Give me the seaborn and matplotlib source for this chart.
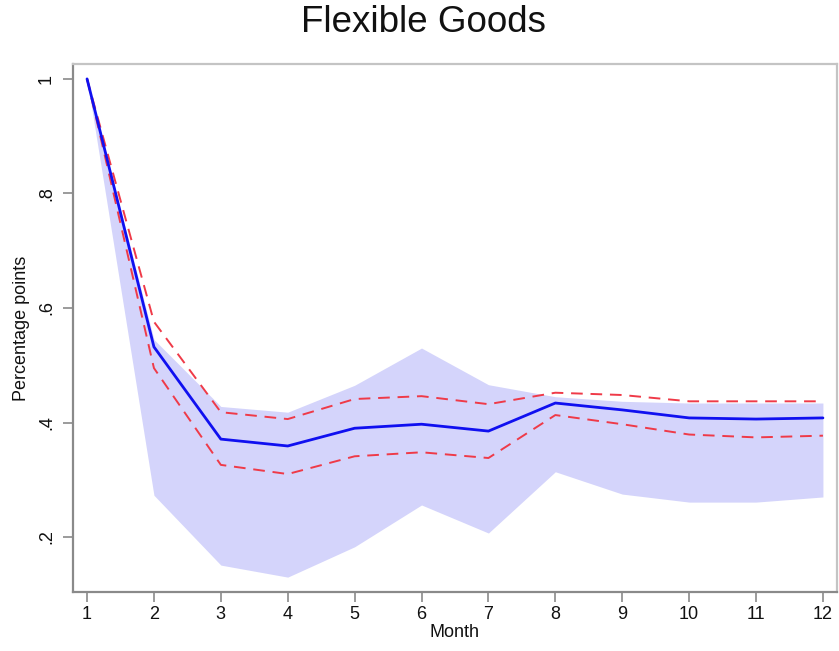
import matplotlib
matplotlib.use("Agg")
import matplotlib.pyplot as plt
import seaborn as sns
import pandas as pd

# Impulse response for flexible-goods prices, months 1-12
months = [1, 2, 3, 4, 5, 6, 7, 8, 9, 10, 11, 12]
estimate = [1.0, 0.532, 0.371, 0.359, 0.390, 0.397, 0.385, 0.434, 0.422, 0.408, 0.406, 0.408]
upper_ci = [1.0, 0.576, 0.418, 0.406, 0.441, 0.446, 0.432, 0.452, 0.448, 0.437, 0.437, 0.437]
lower_ci = [1.0, 0.495, 0.326, 0.310, 0.341, 0.348, 0.338, 0.413, 0.397, 0.379, 0.374, 0.377]
band_high = [1.0, 0.545, 0.428, 0.418, 0.465, 0.530, 0.466, 0.445, 0.437, 0.434, 0.434, 0.434]
band_low = [1.0, 0.273, 0.151, 0.130, 0.183, 0.256, 0.207, 0.314, 0.275, 0.261, 0.261, 0.270]

yticks = [0.2, 0.4, 0.6, 0.8, 1.0]
ytick_labels = [".2", ".4", ".6", ".8", "1"]

df = pd.DataFrame({
    "Month": months,
    "estimate": estimate,
    "upper": upper_ci,
    "lower": lower_ci,
    "band_high": band_high,
    "band_low": band_low,
})

sns.set_style("white")
plt.rcParams["font.family"] = ["Liberation Sans", "DejaVu Sans"]

fig = plt.figure(figsize=(8.39, 6.51), dpi=100)
ax = fig.add_axes([0.087, 0.0906, 0.9106, 0.8111])

ax.fill_between(df["Month"], df["band_low"], df["band_high"],
                color="#d4d4fb", linewidth=0, zorder=1)
sns.lineplot(data=df, x="Month", y="estimate", ax=ax, color="#1010f0",
             linewidth=2.0, zorder=3)
for col in ["upper", "lower"]:
    sns.lineplot(data=df, x="Month", y=col, ax=ax, color="#ef3a48",
                 linewidth=1.4, zorder=2)
    ax.lines[-1].set_dashes((6, 4))

ax.set_xlim(0.79, 12.21)
ax.set_ylim(0.104, 1.026)
ax.set_xticks(months)
ax.set_xticklabels([str(m) for m in months])
ax.set_yticks(yticks)
ax.set_yticklabels(ytick_labels, rotation=90, va="center")

for side in ["left", "bottom"]:
    ax.spines[side].set_color("#8a8a8a")
    ax.spines[side].set_linewidth(1.6)
for side in ["top", "right"]:
    ax.spines[side].set_color("#c4c4c4")
    ax.spines[side].set_linewidth(1.6)

ax.tick_params(axis="both", which="major", direction="out", length=7,
               width=1.2, color="#8a8a8a", labelsize=13, labelcolor="#111111",
               bottom=True, left=True, top=False, right=False)
ax.tick_params(axis="y", pad=6)
ax.tick_params(axis="x", pad=3)

ax.set_xlabel("Month", fontsize=13, labelpad=1, color="#111111")
ax.set_ylabel("Percentage points", fontsize=13, labelpad=6, color="#111111")

fig.text(0.505, 0.966, "Flexible Goods", ha="center", va="center",
         fontsize=26.5, color="#111111")

fig.savefig("out.png", dpi=100)
